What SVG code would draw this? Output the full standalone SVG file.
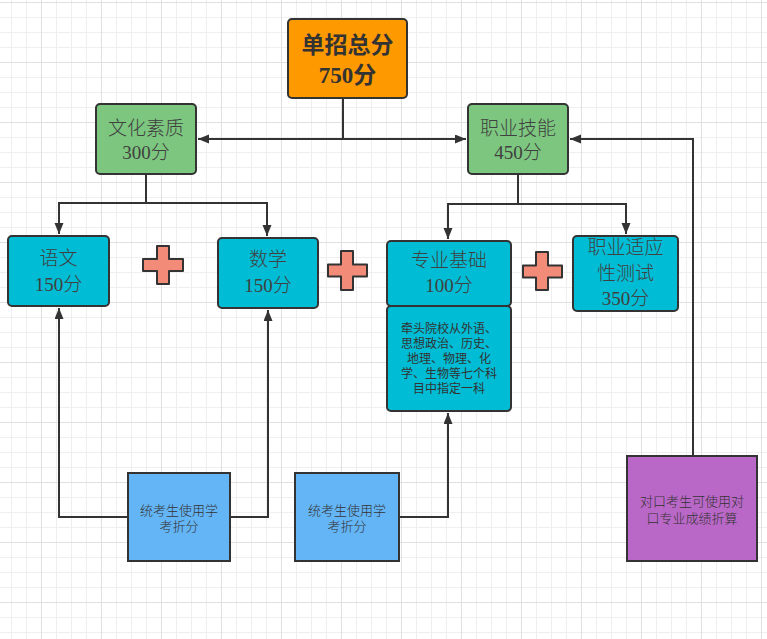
<svg xmlns="http://www.w3.org/2000/svg" width="767" height="639" viewBox="0 0 767 639">
<style>
.box{stroke:#333;stroke-width:2}
.t{font-family:"Liberation Serif","Noto Sans CJK SC",serif;font-size:19px;font-weight:300;fill:#404040;text-anchor:middle}
.tb{font-family:"Liberation Serif","Noto Sans CJK SC",serif;font-size:23px;font-weight:bold;fill:#333;text-anchor:middle}
.s{font-family:"Liberation Sans","Noto Sans CJK SC",sans-serif;font-size:12px;fill:#333;text-anchor:middle}
.m{font-family:"Liberation Sans","Noto Sans CJK SC",sans-serif;font-size:13px;font-weight:300;fill:#333;text-anchor:middle}
.c{fill:none;stroke:#333;stroke-width:2}
.plus{fill:#F28C78;stroke:#333;stroke-width:2;stroke-linejoin:round}
</style>
<defs>
<pattern id="gmin" x="11" y="2" width="15" height="15" patternUnits="userSpaceOnUse">
<path d="M0.5 0V15M0 0.5H15" stroke="#efefef" stroke-width="1" fill="none"/>
</pattern>
<pattern id="gmaj" x="41" y="2" width="60" height="60" patternUnits="userSpaceOnUse">
<path d="M0.5 0V60M0 0.5H60" stroke="#e0e0e0" stroke-width="1" fill="none"/>
</pattern>
<marker id="arr" markerUnits="userSpaceOnUse" markerWidth="12" markerHeight="10" refX="11" refY="4.5" orient="auto">
<path d="M0,0 L11,4.5 L0,9 z" fill="#333"/>
</marker>
</defs>
<rect width="767" height="639" fill="#fff"/>
<rect width="767" height="639" fill="url(#gmin)"/>
<rect width="767" height="639" fill="url(#gmaj)"/>

<g id="connectors">
<path class="c" d="M343,98 V139 H198" marker-end="url(#arr)"/>
<path class="c" d="M343,139 H466" marker-end="url(#arr)"/>
<path class="c" d="M693,456 V139 H570" marker-end="url(#arr)"/>
<path class="c" d="M146,174 V203 H59 V234" marker-end="url(#arr)"/>
<path class="c" d="M146,203 H267 V236" marker-end="url(#arr)"/>
<path class="c" d="M518,174 V204 H448 V239" marker-end="url(#arr)"/>
<path class="c" d="M518,204 H626 V234" marker-end="url(#arr)"/>
<path class="c" d="M128,517 H59 V308" marker-end="url(#arr)"/>
<path class="c" d="M230,517 H268 V310" marker-end="url(#arr)"/>
<path class="c" d="M399,517 H448 V413" marker-end="url(#arr)"/>
</g>

<g id="total">
<rect class="box" x="288" y="19" width="119" height="79" rx="4" fill="#FF9900"/>
<text class="tb" x="347.5" y="53">单招总分</text>
<text class="tb" x="347.5" y="83">750分</text>
</g>
<g id="culture">
<rect class="box" x="96" y="104" width="100" height="70" rx="4" fill="#7DC67F"/>
<text class="t" x="146" y="134.5">文化素质</text>
<text class="t" x="146" y="158.5">300分</text>
</g>
<g id="skill">
<rect class="box" x="468" y="104" width="100" height="70" rx="4" fill="#7DC67F"/>
<text class="t" x="518" y="134.5">职业技能</text>
<text class="t" x="518" y="158.5">450分</text>
</g>
<g id="chinese">
<rect class="box" x="8" y="236" width="101" height="70" rx="4" fill="#00BCD4"/>
<text class="t" x="58.5" y="264.5">语文</text>
<text class="t" x="58.5" y="290.5">150分</text>
</g>
<g id="math">
<rect class="box" x="218" y="238" width="100" height="70" rx="4" fill="#00BCD4"/>
<text class="t" x="268" y="266">数学</text>
<text class="t" x="268" y="291.5">150分</text>
</g>
<g id="major">
<rect class="box" x="387" y="241" width="124" height="65" rx="4" fill="#00BCD4"/>
<text class="t" x="449" y="267">专业基础</text>
<text class="t" x="449" y="291.5">100分</text>
</g>
<g id="major-note">
<rect class="box" x="387" y="306" width="124" height="105" rx="4" fill="#00BCD4"/>
<text class="s" x="449" y="332.5">牵头院校从外语、</text>
<text class="s" x="449" y="347.5">思想政治、历史、</text>
<text class="s" x="449" y="362.5">地理、物理、化</text>
<text class="s" x="449" y="377.5">学、生物等七个科</text>
<text class="s" x="449" y="392.5">目中指定一科</text>
</g>
<g id="aptitude">
<rect class="box" x="573" y="236" width="105" height="75" rx="4" fill="#00BCD4"/>
<text class="t" x="625.5" y="254">职业适应</text>
<text class="t" x="625.5" y="279.5">性测试</text>
<text class="t" x="625.5" y="305">350分</text>
</g>
<g id="plus1">
<path class="plus" d="M157,246 H169 V259 H183 V271 H169 V284 H157 V271 H143 V259 H157 Z"/>
</g>
<g id="plus2">
<path class="plus" d="M341,251 H353 V264.5 H367 V276.5 H353 V290 H341 V276.5 H328 V264.5 H341 Z"/>
</g>
<g id="plus3">
<path class="plus" d="M536,252 H548 V265.5 H562 V277.5 H548 V290 H536 V277.5 H523 V265.5 H536 Z"/>
</g>
<g id="exam1">
<rect class="box" x="128" y="473" width="102" height="88" fill="#64B5F6"/>
<text class="m" x="179" y="514.5">统考生使用学</text>
<text class="m" x="179" y="531">考折分</text>
</g>
<g id="exam2">
<rect class="box" x="295" y="473" width="104" height="88" fill="#64B5F6"/>
<text class="m" x="347" y="514.5">统考生使用学</text>
<text class="m" x="347" y="531">考折分</text>
</g>
<g id="matched">
<rect class="box" x="627" y="456" width="130" height="105" fill="#BA68C8"/>
<text class="m" x="692" y="505.5">对口考生可使用对</text>
<text class="m" x="692" y="522.5">口专业成绩折算</text>
</g>
</svg>
